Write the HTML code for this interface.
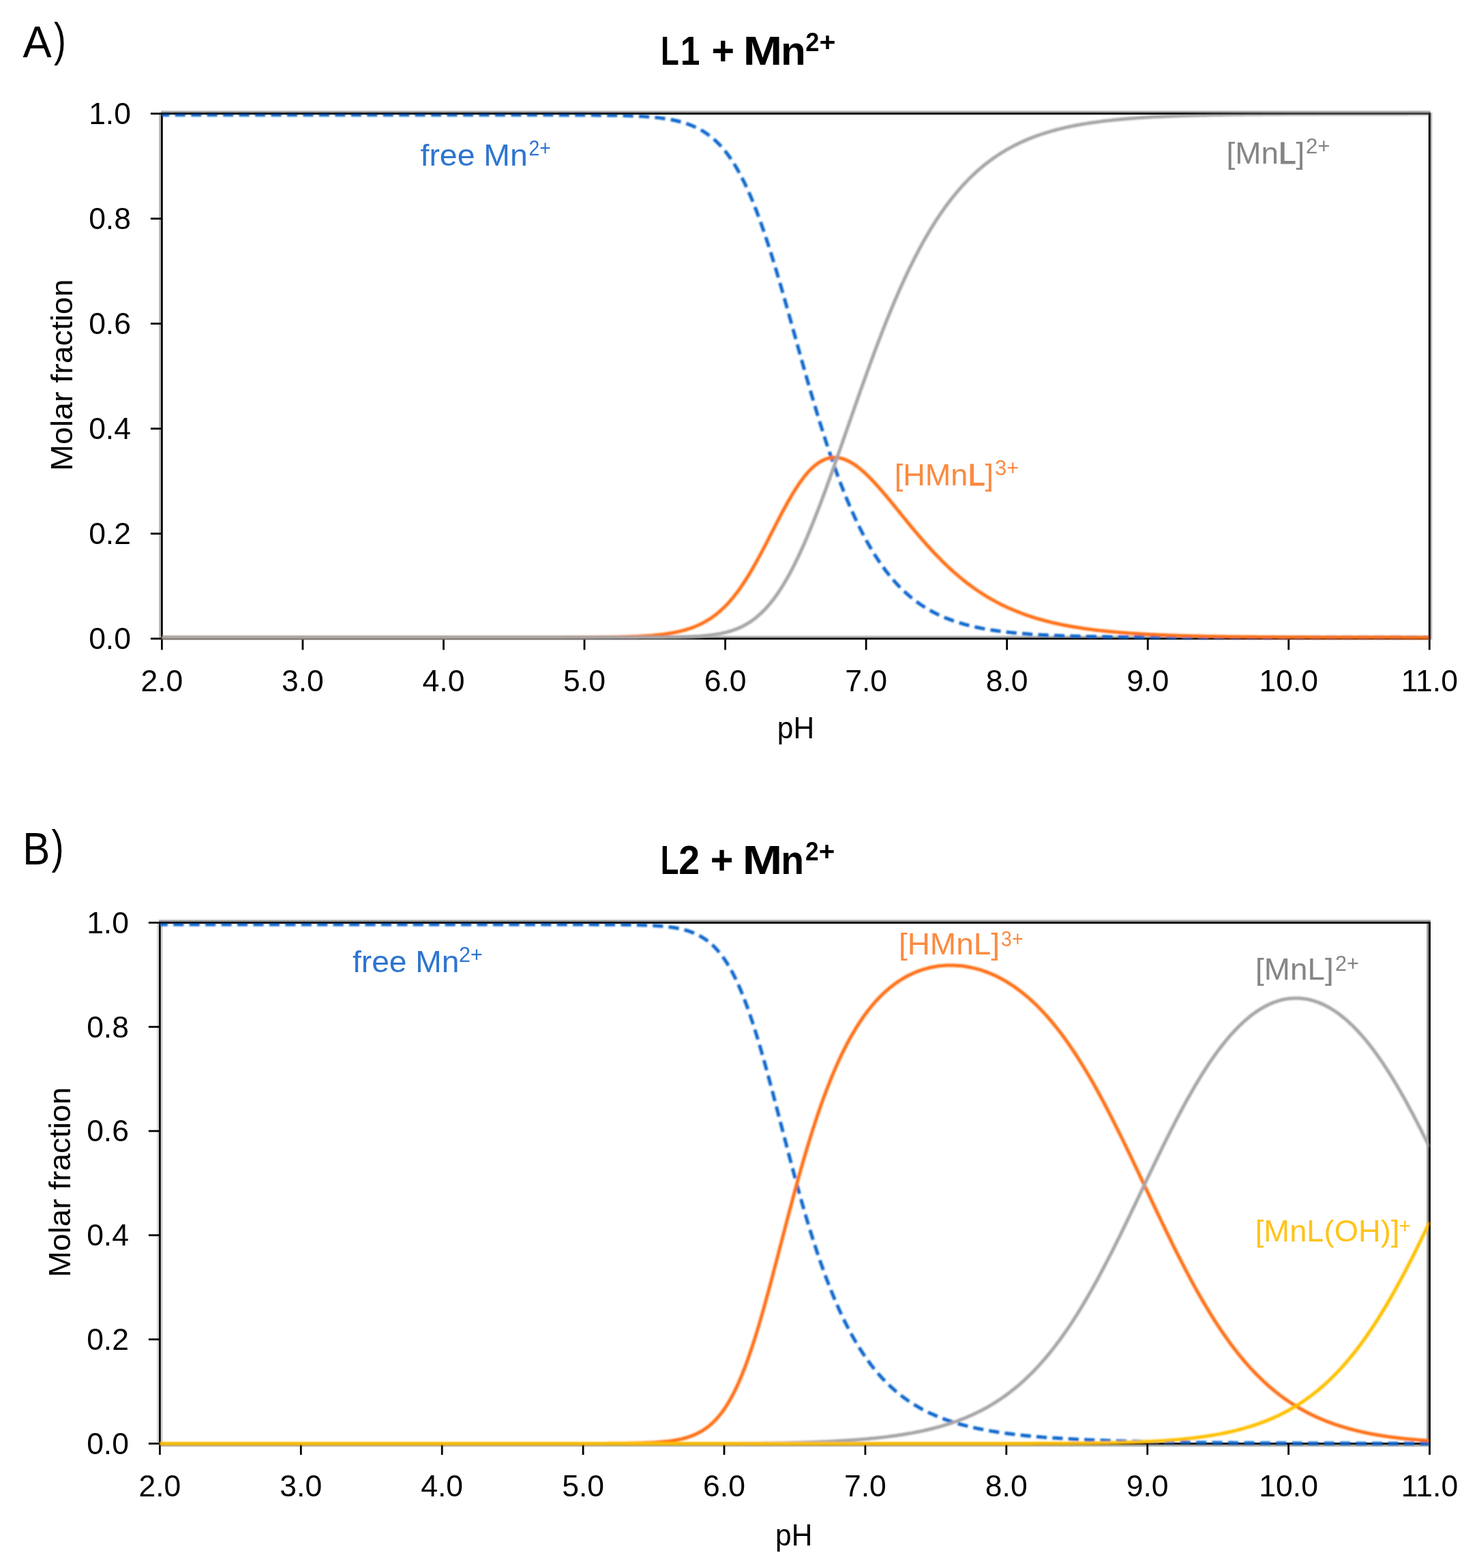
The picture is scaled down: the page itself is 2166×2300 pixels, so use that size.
<!DOCTYPE html>
<html lang="en"><head><meta charset="utf-8"><title>Speciation diagrams: L1 + Mn2+ and L2 + Mn2+</title>
<style>html,body{margin:0;padding:0;background:#fff;}svg{display:block;}</style>
</head><body>
<svg width="2166" height="2300" viewBox="0 0 2166 2300" font-family='"Liberation Sans", Arial, Helvetica, sans-serif'>
<defs><filter id="soft" filterUnits="userSpaceOnUse" x="0" y="0" width="2166" height="2300"><feGaussianBlur stdDeviation="0.8"/></filter><filter id="softt" filterUnits="userSpaceOnUse" x="0" y="0" width="2166" height="2300"><feGaussianBlur stdDeviation="0.45"/></filter></defs>
<rect width="2166" height="2300" fill="#fff"/>
<g fill="none"><line x1="234.5" y1="165.3" x2="234.5" y2="938.2" stroke="#B6B6B6" stroke-width="2.8"/><line x1="236" y1="163.9" x2="2097.7" y2="163.9" stroke="#ABABAB" stroke-width="2.7"/><line x1="2099" y1="165.3" x2="2099" y2="938.2" stroke="#B8B8B8" stroke-width="2.6"/><line x1="236" y1="934" x2="2097.7" y2="934" stroke="#B6B6B6" stroke-width="2.8"/></g>
<g stroke="#000" stroke-width="2.8" fill="none">
<line x1="220.9" y1="936.8" x2="237.4" y2="936.8"/>
<line x1="220.9" y1="782.78" x2="237.4" y2="782.78"/>
<line x1="220.9" y1="628.76" x2="237.4" y2="628.76"/>
<line x1="220.9" y1="474.74" x2="237.4" y2="474.74"/>
<line x1="220.9" y1="320.72" x2="237.4" y2="320.72"/>
<line x1="220.9" y1="166.7" x2="237.4" y2="166.7"/>
<line x1="237.4" y1="936.8" x2="237.4" y2="953.3"/>
<line x1="443.94" y1="936.8" x2="443.94" y2="953.3"/>
<line x1="650.49" y1="936.8" x2="650.49" y2="953.3"/>
<line x1="857.03" y1="936.8" x2="857.03" y2="953.3"/>
<line x1="1063.58" y1="936.8" x2="1063.58" y2="953.3"/>
<line x1="1270.12" y1="936.8" x2="1270.12" y2="953.3"/>
<line x1="1476.67" y1="936.8" x2="1476.67" y2="953.3"/>
<line x1="1683.21" y1="936.8" x2="1683.21" y2="953.3"/>
<line x1="1889.76" y1="936.8" x2="1889.76" y2="953.3"/>
<line x1="2096.3" y1="936.8" x2="2096.3" y2="953.3"/>
<rect x="237.4" y="166.7" width="1858.9" height="770.1"/>
</g>
<g font-size="44.5" fill="#000">
<text x="192" y="952.2" text-anchor="end">0.0</text>
<text x="192" y="798.18" text-anchor="end">0.2</text>
<text x="192" y="644.16" text-anchor="end">0.4</text>
<text x="192" y="490.14" text-anchor="end">0.6</text>
<text x="192" y="336.12" text-anchor="end">0.8</text>
<text x="192" y="182.1" text-anchor="end">1.0</text>
<text x="237.4" y="1013.5" text-anchor="middle">2.0</text>
<text x="443.94" y="1013.5" text-anchor="middle">3.0</text>
<text x="650.49" y="1013.5" text-anchor="middle">4.0</text>
<text x="857.03" y="1013.5" text-anchor="middle">5.0</text>
<text x="1063.58" y="1013.5" text-anchor="middle">6.0</text>
<text x="1270.12" y="1013.5" text-anchor="middle">7.0</text>
<text x="1476.67" y="1013.5" text-anchor="middle">8.0</text>
<text x="1683.21" y="1013.5" text-anchor="middle">9.0</text>
<text x="1889.76" y="1013.5" text-anchor="middle">10.0</text>
<text x="2096.3" y="1013.5" text-anchor="middle">11.0</text>
</g>
<g fill="none" stroke-linejoin="round" filter="url(#soft)">
<path d="M237.4,168.57 L241.53,168.57 L245.66,168.57 L249.79,168.57 L253.92,168.57 L258.05,168.57 L262.19,168.57 L266.32,168.57 L270.45,168.57 L274.58,168.57 L278.71,168.57 L282.84,168.57 L286.97,168.57 L291.1,168.57 L295.23,168.57 L299.36,168.57 L303.49,168.57 L307.63,168.57 L311.76,168.57 L315.89,168.57 L320.02,168.57 L324.15,168.57 L328.28,168.57 L332.41,168.57 L336.54,168.57 L340.67,168.57 L344.8,168.57 L348.93,168.57 L353.06,168.57 L357.2,168.57 L361.33,168.57 L365.46,168.57 L369.59,168.57 L373.72,168.57 L377.85,168.57 L381.98,168.57 L386.11,168.57 L390.24,168.57 L394.37,168.57 L398.5,168.57 L402.64,168.57 L406.77,168.57 L410.9,168.57 L415.03,168.57 L419.16,168.57 L423.29,168.57 L427.42,168.57 L431.55,168.57 L435.68,168.57 L439.81,168.57 L443.94,168.57 L448.08,168.57 L452.21,168.57 L456.34,168.57 L460.47,168.57 L464.6,168.57 L468.73,168.57 L472.86,168.57 L476.99,168.57 L481.12,168.57 L485.25,168.57 L489.38,168.57 L493.52,168.57 L497.65,168.57 L501.78,168.57 L505.91,168.57 L510.04,168.57 L514.17,168.57 L518.3,168.57 L522.43,168.57 L526.56,168.57 L530.69,168.57 L534.82,168.57 L538.95,168.57 L543.09,168.57 L547.22,168.57 L551.35,168.57 L555.48,168.57 L559.61,168.57 L563.74,168.57 L567.87,168.57 L572,168.57 L576.13,168.57 L580.26,168.57 L584.39,168.57 L588.53,168.57 L592.66,168.57 L596.79,168.57 L600.92,168.57 L605.05,168.57 L609.18,168.57 L613.31,168.57 L617.44,168.57 L621.57,168.57 L625.7,168.57 L629.83,168.57 L633.97,168.57 L638.1,168.57 L642.23,168.57 L646.36,168.57 L650.49,168.57 L654.62,168.57 L658.75,168.57 L662.88,168.57 L667.01,168.57 L671.14,168.57 L675.27,168.57 L679.41,168.57 L683.54,168.57 L687.67,168.57 L691.8,168.57 L695.93,168.57 L700.06,168.57 L704.19,168.57 L708.32,168.57 L712.45,168.57 L716.58,168.57 L720.71,168.57 L724.84,168.57 L728.98,168.57 L733.11,168.57 L737.24,168.57 L741.37,168.57 L745.5,168.57 L749.63,168.57 L753.76,168.58 L757.89,168.58 L762.02,168.58 L766.15,168.58 L770.28,168.58 L774.42,168.58 L778.55,168.59 L782.68,168.59 L786.81,168.59 L790.94,168.59 L795.07,168.6 L799.2,168.6 L803.33,168.61 L807.46,168.61 L811.59,168.62 L815.72,168.62 L819.86,168.63 L823.99,168.64 L828.12,168.65 L832.25,168.66 L836.38,168.67 L840.51,168.68 L844.64,168.7 L848.77,168.72 L852.9,168.74 L857.03,168.76 L861.16,168.78 L865.3,168.81 L869.43,168.84 L873.56,168.88 L877.69,168.91 L881.82,168.96 L885.95,169.01 L890.08,169.06 L894.21,169.13 L898.34,169.2 L902.47,169.28 L906.6,169.37 L910.73,169.47 L914.87,169.58 L919,169.7 L923.13,169.85 L927.26,170 L931.39,170.18 L935.52,170.38 L939.65,170.6 L943.78,170.85 L947.91,171.13 L952.04,171.44 L956.17,171.79 L960.31,172.18 L964.44,172.62 L968.57,173.11 L972.7,173.65 L976.83,174.26 L980.96,174.93 L985.09,175.69 L989.22,176.53 L993.35,177.47 L997.48,178.51 L1001.61,179.67 L1005.75,180.96 L1009.88,182.39 L1014.01,183.97 L1018.14,185.73 L1022.27,187.67 L1026.4,189.82 L1030.53,192.2 L1034.66,194.82 L1038.79,197.7 L1042.92,200.87 L1047.05,204.35 L1051.19,208.17 L1055.32,212.34 L1059.45,216.89 L1063.58,221.85 L1067.71,227.24 L1071.84,233.07 L1075.97,239.38 L1080.1,246.18 L1084.23,253.49 L1088.36,261.32 L1092.49,269.68 L1096.62,278.58 L1100.76,288.01 L1104.89,297.99 L1109.02,308.5 L1113.15,319.53 L1117.28,331.06 L1121.41,343.07 L1125.54,355.54 L1129.67,368.42 L1133.8,381.7 L1137.93,395.32 L1142.06,409.25 L1146.2,423.45 L1150.33,437.86 L1154.46,452.44 L1158.59,467.15 L1162.72,481.94 L1166.85,496.76 L1170.98,511.57 L1175.11,526.33 L1179.24,540.99 L1183.37,555.52 L1187.5,569.88 L1191.64,584.04 L1195.77,597.97 L1199.9,611.65 L1204.03,625.05 L1208.16,638.14 L1212.29,650.92 L1216.42,663.36 L1220.55,675.46 L1224.68,687.2 L1228.81,698.58 L1232.94,709.59 L1237.08,720.23 L1241.21,730.49 L1245.34,740.38 L1249.47,749.9 L1253.6,759.05 L1257.73,767.84 L1261.86,776.27 L1265.99,784.34 L1270.12,792.08 L1274.25,799.47 L1278.38,806.54 L1282.51,813.29 L1286.65,819.72 L1290.78,825.86 L1294.91,831.71 L1299.04,837.27 L1303.17,842.56 L1307.3,847.6 L1311.43,852.38 L1315.56,856.92 L1319.69,861.23 L1323.82,865.32 L1327.95,869.2 L1332.09,872.87 L1336.22,876.35 L1340.35,879.65 L1344.48,882.77 L1348.61,885.72 L1352.74,888.51 L1356.87,891.15 L1361,893.65 L1365.13,896 L1369.26,898.23 L1373.39,900.34 L1377.53,902.32 L1381.66,904.2 L1385.79,905.97 L1389.92,907.64 L1394.05,909.21 L1398.18,910.7 L1402.31,912.1 L1406.44,913.42 L1410.57,914.67 L1414.7,915.84 L1418.83,916.95 L1422.97,918 L1427.1,918.98 L1431.23,919.91 L1435.36,920.78 L1439.49,921.61 L1443.62,922.38 L1447.75,923.11 L1451.88,923.8 L1456.01,924.45 L1460.14,925.06 L1464.27,925.64 L1468.4,926.18 L1472.54,926.69 L1476.67,927.17 L1480.8,927.63 L1484.93,928.05 L1489.06,928.46 L1493.19,928.84 L1497.32,929.19 L1501.45,929.53 L1505.58,929.85 L1509.71,930.15 L1513.84,930.43 L1517.98,930.7 L1522.11,930.95 L1526.24,931.18 L1530.37,931.41 L1534.5,931.62 L1538.63,931.81 L1542.76,932 L1546.89,932.18 L1551.02,932.34 L1555.15,932.5 L1559.28,932.65 L1563.42,932.78 L1567.55,932.92 L1571.68,933.04 L1575.81,933.16 L1579.94,933.27 L1584.07,933.37 L1588.2,933.47 L1592.33,933.56 L1596.46,933.65 L1600.59,933.73 L1604.72,933.81 L1608.86,933.88 L1612.99,933.95 L1617.12,934.02 L1621.25,934.08 L1625.38,934.14 L1629.51,934.2 L1633.64,934.25 L1637.77,934.3 L1641.9,934.35 L1646.03,934.39 L1650.16,934.43 L1654.29,934.47 L1658.43,934.51 L1662.56,934.54 L1666.69,934.58 L1670.82,934.61 L1674.95,934.64 L1679.08,934.67 L1683.21,934.7 L1687.34,934.72 L1691.47,934.74 L1695.6,934.77 L1699.73,934.79 L1703.87,934.81 L1708,934.83 L1712.13,934.85 L1716.26,934.87 L1720.39,934.88 L1724.52,934.9 L1728.65,934.91 L1732.78,934.93 L1736.91,934.94 L1741.04,934.95 L1745.17,934.96 L1749.31,934.98 L1753.44,934.99 L1757.57,935 L1761.7,935.01 L1765.83,935.02 L1769.96,935.02 L1774.09,935.03 L1778.22,935.04 L1782.35,935.05 L1786.48,935.06 L1790.61,935.06 L1794.75,935.07 L1798.88,935.07 L1803.01,935.08 L1807.14,935.09 L1811.27,935.09 L1815.4,935.1 L1819.53,935.1 L1823.66,935.11 L1827.79,935.11 L1831.92,935.11 L1836.05,935.12 L1840.18,935.12 L1844.32,935.13 L1848.45,935.13 L1852.58,935.13 L1856.71,935.13 L1860.84,935.14 L1864.97,935.14 L1869.1,935.14 L1873.23,935.15 L1877.36,935.15 L1881.49,935.15 L1885.62,935.15 L1889.76,935.15 L1893.89,935.16 L1898.02,935.16 L1902.15,935.16 L1906.28,935.16 L1910.41,935.16 L1914.54,935.16 L1918.67,935.17 L1922.8,935.17 L1926.93,935.17 L1931.06,935.17 L1935.2,935.17 L1939.33,935.17 L1943.46,935.17 L1947.59,935.18 L1951.72,935.18 L1955.85,935.18 L1959.98,935.18 L1964.11,935.18 L1968.24,935.18 L1972.37,935.18 L1976.5,935.18 L1980.64,935.18 L1984.77,935.18 L1988.9,935.18 L1993.03,935.18 L1997.16,935.18 L2001.29,935.19 L2005.42,935.19 L2009.55,935.19 L2013.68,935.19 L2017.81,935.19 L2021.94,935.19 L2026.07,935.19 L2030.21,935.19 L2034.34,935.19 L2038.47,935.19 L2042.6,935.19 L2046.73,935.19 L2050.86,935.19 L2054.99,935.19 L2059.12,935.19 L2063.25,935.19 L2067.38,935.19 L2071.51,935.19 L2075.65,935.19 L2079.78,935.19 L2083.91,935.19 L2088.04,935.19 L2092.17,935.19 L2096.3,935.19" stroke="#0A66CC" stroke-width="5.0" stroke-dasharray="15.2 8.259" stroke-dashoffset="4.16"/>
<path d="M237.4,935.2 L241.53,935.2 L245.66,935.2 L249.79,935.2 L253.92,935.2 L258.05,935.2 L262.19,935.2 L266.32,935.2 L270.45,935.2 L274.58,935.2 L278.71,935.2 L282.84,935.2 L286.97,935.2 L291.1,935.2 L295.23,935.2 L299.36,935.2 L303.49,935.2 L307.63,935.2 L311.76,935.2 L315.89,935.2 L320.02,935.2 L324.15,935.2 L328.28,935.2 L332.41,935.2 L336.54,935.2 L340.67,935.2 L344.8,935.2 L348.93,935.2 L353.06,935.2 L357.2,935.2 L361.33,935.2 L365.46,935.2 L369.59,935.2 L373.72,935.2 L377.85,935.2 L381.98,935.2 L386.11,935.2 L390.24,935.2 L394.37,935.2 L398.5,935.2 L402.64,935.2 L406.77,935.2 L410.9,935.2 L415.03,935.2 L419.16,935.2 L423.29,935.2 L427.42,935.2 L431.55,935.2 L435.68,935.2 L439.81,935.2 L443.94,935.2 L448.08,935.2 L452.21,935.2 L456.34,935.2 L460.47,935.2 L464.6,935.2 L468.73,935.2 L472.86,935.2 L476.99,935.2 L481.12,935.2 L485.25,935.2 L489.38,935.2 L493.52,935.2 L497.65,935.2 L501.78,935.2 L505.91,935.2 L510.04,935.2 L514.17,935.2 L518.3,935.2 L522.43,935.2 L526.56,935.2 L530.69,935.2 L534.82,935.2 L538.95,935.2 L543.09,935.2 L547.22,935.2 L551.35,935.2 L555.48,935.2 L559.61,935.2 L563.74,935.2 L567.87,935.2 L572,935.2 L576.13,935.2 L580.26,935.2 L584.39,935.2 L588.53,935.2 L592.66,935.2 L596.79,935.2 L600.92,935.2 L605.05,935.2 L609.18,935.2 L613.31,935.2 L617.44,935.2 L621.57,935.2 L625.7,935.2 L629.83,935.2 L633.97,935.2 L638.1,935.2 L642.23,935.2 L646.36,935.2 L650.49,935.2 L654.62,935.2 L658.75,935.2 L662.88,935.2 L667.01,935.2 L671.14,935.2 L675.27,935.2 L679.41,935.2 L683.54,935.2 L687.67,935.2 L691.8,935.2 L695.93,935.2 L700.06,935.2 L704.19,935.2 L708.32,935.2 L712.45,935.2 L716.58,935.2 L720.71,935.2 L724.84,935.2 L728.98,935.2 L733.11,935.2 L737.24,935.2 L741.37,935.19 L745.5,935.19 L749.63,935.19 L753.76,935.19 L757.89,935.19 L762.02,935.19 L766.15,935.19 L770.28,935.19 L774.42,935.18 L778.55,935.18 L782.68,935.18 L786.81,935.18 L790.94,935.17 L795.07,935.17 L799.2,935.17 L803.33,935.16 L807.46,935.16 L811.59,935.15 L815.72,935.14 L819.86,935.14 L823.99,935.13 L828.12,935.12 L832.25,935.11 L836.38,935.1 L840.51,935.08 L844.64,935.07 L848.77,935.05 L852.9,935.03 L857.03,935.01 L861.16,934.99 L865.3,934.96 L869.43,934.93 L873.56,934.9 L877.69,934.86 L881.82,934.82 L885.95,934.77 L890.08,934.71 L894.21,934.65 L898.34,934.58 L902.47,934.51 L906.6,934.42 L910.73,934.32 L914.87,934.22 L919,934.1 L923.13,933.96 L927.26,933.81 L931.39,933.64 L935.52,933.45 L939.65,933.24 L943.78,933 L947.91,932.74 L952.04,932.45 L956.17,932.12 L960.31,931.75 L964.44,931.34 L968.57,930.89 L972.7,930.39 L976.83,929.83 L980.96,929.2 L985.09,928.51 L989.22,927.74 L993.35,926.89 L997.48,925.95 L1001.61,924.9 L1005.75,923.75 L1009.88,922.47 L1014.01,921.07 L1018.14,919.52 L1022.27,917.81 L1026.4,915.94 L1030.53,913.88 L1034.66,911.63 L1038.79,909.17 L1042.92,906.48 L1047.05,903.56 L1051.19,900.38 L1055.32,896.93 L1059.45,893.21 L1063.58,889.19 L1067.71,884.86 L1071.84,880.23 L1075.97,875.28 L1080.1,870 L1084.23,864.4 L1088.36,858.48 L1092.49,852.25 L1096.62,845.72 L1100.76,838.89 L1104.89,831.8 L1109.02,824.47 L1113.15,816.91 L1117.28,809.17 L1121.41,801.29 L1125.54,793.29 L1129.67,785.22 L1133.8,777.13 L1137.93,769.06 L1142.06,761.07 L1146.2,753.18 L1150.33,745.46 L1154.46,737.95 L1158.59,730.68 L1162.72,723.71 L1166.85,717.07 L1170.98,710.79 L1175.11,704.9 L1179.24,699.44 L1183.37,694.42 L1187.5,689.87 L1191.64,685.79 L1195.77,682.21 L1199.9,679.13 L1204.03,676.55 L1208.16,674.47 L1212.29,672.89 L1216.42,671.8 L1220.55,671.2 L1224.68,671.06 L1228.81,671.38 L1232.94,672.14 L1237.08,673.32 L1241.21,674.91 L1245.34,676.88 L1249.47,679.2 L1253.6,681.87 L1257.73,684.84 L1261.86,688.11 L1265.99,691.65 L1270.12,695.43 L1274.25,699.44 L1278.38,703.64 L1282.51,708.02 L1286.65,712.56 L1290.78,717.23 L1294.91,722.01 L1299.04,726.89 L1303.17,731.85 L1307.3,736.86 L1311.43,741.92 L1315.56,747.01 L1319.69,752.1 L1323.82,757.2 L1327.95,762.28 L1332.09,767.34 L1336.22,772.36 L1340.35,777.33 L1344.48,782.25 L1348.61,787.11 L1352.74,791.89 L1356.87,796.6 L1361,801.23 L1365.13,805.77 L1369.26,810.22 L1373.39,814.57 L1377.53,818.82 L1381.66,822.98 L1385.79,827.03 L1389.92,830.98 L1394.05,834.82 L1398.18,838.56 L1402.31,842.19 L1406.44,845.72 L1410.57,849.14 L1414.7,852.45 L1418.83,855.66 L1422.97,858.77 L1427.1,861.78 L1431.23,864.69 L1435.36,867.5 L1439.49,870.21 L1443.62,872.83 L1447.75,875.36 L1451.88,877.79 L1456.01,880.14 L1460.14,882.41 L1464.27,884.59 L1468.4,886.68 L1472.54,888.7 L1476.67,890.64 L1480.8,892.51 L1484.93,894.31 L1489.06,896.03 L1493.19,897.69 L1497.32,899.28 L1501.45,900.81 L1505.58,902.28 L1509.71,903.68 L1513.84,905.04 L1517.98,906.33 L1522.11,907.58 L1526.24,908.77 L1530.37,909.91 L1534.5,911.01 L1538.63,912.06 L1542.76,913.06 L1546.89,914.03 L1551.02,914.95 L1555.15,915.83 L1559.28,916.68 L1563.42,917.49 L1567.55,918.27 L1571.68,919.01 L1575.81,919.72 L1579.94,920.4 L1584.07,921.06 L1588.2,921.68 L1592.33,922.28 L1596.46,922.85 L1600.59,923.39 L1604.72,923.92 L1608.86,924.42 L1612.99,924.89 L1617.12,925.35 L1621.25,925.79 L1625.38,926.21 L1629.51,926.6 L1633.64,926.99 L1637.77,927.35 L1641.9,927.7 L1646.03,928.04 L1650.16,928.35 L1654.29,928.66 L1658.43,928.95 L1662.56,929.23 L1666.69,929.5 L1670.82,929.75 L1674.95,929.99 L1679.08,930.23 L1683.21,930.45 L1687.34,930.66 L1691.47,930.86 L1695.6,931.06 L1699.73,931.24 L1703.87,931.42 L1708,931.59 L1712.13,931.75 L1716.26,931.91 L1720.39,932.05 L1724.52,932.2 L1728.65,932.33 L1732.78,932.46 L1736.91,932.58 L1741.04,932.7 L1745.17,932.81 L1749.31,932.92 L1753.44,933.02 L1757.57,933.12 L1761.7,933.21 L1765.83,933.3 L1769.96,933.39 L1774.09,933.47 L1778.22,933.55 L1782.35,933.62 L1786.48,933.69 L1790.61,933.76 L1794.75,933.82 L1798.88,933.89 L1803.01,933.94 L1807.14,934 L1811.27,934.05 L1815.4,934.11 L1819.53,934.16 L1823.66,934.2 L1827.79,934.25 L1831.92,934.29 L1836.05,934.33 L1840.18,934.37 L1844.32,934.41 L1848.45,934.44 L1852.58,934.48 L1856.71,934.51 L1860.84,934.54 L1864.97,934.57 L1869.1,934.6 L1873.23,934.63 L1877.36,934.65 L1881.49,934.68 L1885.62,934.7 L1889.76,934.72 L1893.89,934.74 L1898.02,934.76 L1902.15,934.78 L1906.28,934.8 L1910.41,934.82 L1914.54,934.84 L1918.67,934.85 L1922.8,934.87 L1926.93,934.88 L1931.06,934.9 L1935.2,934.91 L1939.33,934.92 L1943.46,934.94 L1947.59,934.95 L1951.72,934.96 L1955.85,934.97 L1959.98,934.98 L1964.11,934.99 L1968.24,935 L1972.37,935.01 L1976.5,935.02 L1980.64,935.03 L1984.77,935.03 L1988.9,935.04 L1993.03,935.05 L1997.16,935.06 L2001.29,935.06 L2005.42,935.07 L2009.55,935.07 L2013.68,935.08 L2017.81,935.09 L2021.94,935.09 L2026.07,935.1 L2030.21,935.1 L2034.34,935.1 L2038.47,935.11 L2042.6,935.11 L2046.73,935.12 L2050.86,935.12 L2054.99,935.12 L2059.12,935.13 L2063.25,935.13 L2067.38,935.13 L2071.51,935.14 L2075.65,935.14 L2079.78,935.14 L2083.91,935.15 L2088.04,935.15 L2092.17,935.15 L2096.3,935.15" stroke="#FF7014" stroke-width="5.0"/>
<path d="M237.4,935.2 L241.53,935.2 L245.66,935.2 L249.79,935.2 L253.92,935.2 L258.05,935.2 L262.19,935.2 L266.32,935.2 L270.45,935.2 L274.58,935.2 L278.71,935.2 L282.84,935.2 L286.97,935.2 L291.1,935.2 L295.23,935.2 L299.36,935.2 L303.49,935.2 L307.63,935.2 L311.76,935.2 L315.89,935.2 L320.02,935.2 L324.15,935.2 L328.28,935.2 L332.41,935.2 L336.54,935.2 L340.67,935.2 L344.8,935.2 L348.93,935.2 L353.06,935.2 L357.2,935.2 L361.33,935.2 L365.46,935.2 L369.59,935.2 L373.72,935.2 L377.85,935.2 L381.98,935.2 L386.11,935.2 L390.24,935.2 L394.37,935.2 L398.5,935.2 L402.64,935.2 L406.77,935.2 L410.9,935.2 L415.03,935.2 L419.16,935.2 L423.29,935.2 L427.42,935.2 L431.55,935.2 L435.68,935.2 L439.81,935.2 L443.94,935.2 L448.08,935.2 L452.21,935.2 L456.34,935.2 L460.47,935.2 L464.6,935.2 L468.73,935.2 L472.86,935.2 L476.99,935.2 L481.12,935.2 L485.25,935.2 L489.38,935.2 L493.52,935.2 L497.65,935.2 L501.78,935.2 L505.91,935.2 L510.04,935.2 L514.17,935.2 L518.3,935.2 L522.43,935.2 L526.56,935.2 L530.69,935.2 L534.82,935.2 L538.95,935.2 L543.09,935.2 L547.22,935.2 L551.35,935.2 L555.48,935.2 L559.61,935.2 L563.74,935.2 L567.87,935.2 L572,935.2 L576.13,935.2 L580.26,935.2 L584.39,935.2 L588.53,935.2 L592.66,935.2 L596.79,935.2 L600.92,935.2 L605.05,935.2 L609.18,935.2 L613.31,935.2 L617.44,935.2 L621.57,935.2 L625.7,935.2 L629.83,935.2 L633.97,935.2 L638.1,935.2 L642.23,935.2 L646.36,935.2 L650.49,935.2 L654.62,935.2 L658.75,935.2 L662.88,935.2 L667.01,935.2 L671.14,935.2 L675.27,935.2 L679.41,935.2 L683.54,935.2 L687.67,935.2 L691.8,935.2 L695.93,935.2 L700.06,935.2 L704.19,935.2 L708.32,935.2 L712.45,935.2 L716.58,935.2 L720.71,935.2 L724.84,935.2 L728.98,935.2 L733.11,935.2 L737.24,935.2 L741.37,935.2 L745.5,935.2 L749.63,935.2 L753.76,935.2 L757.89,935.2 L762.02,935.2 L766.15,935.2 L770.28,935.2 L774.42,935.2 L778.55,935.2 L782.68,935.2 L786.81,935.2 L790.94,935.2 L795.07,935.2 L799.2,935.2 L803.33,935.2 L807.46,935.2 L811.59,935.2 L815.72,935.2 L819.86,935.2 L823.99,935.2 L828.12,935.2 L832.25,935.2 L836.38,935.2 L840.51,935.2 L844.64,935.2 L848.77,935.2 L852.9,935.2 L857.03,935.2 L861.16,935.2 L865.3,935.2 L869.43,935.2 L873.56,935.19 L877.69,935.19 L881.82,935.19 L885.95,935.19 L890.08,935.19 L894.21,935.19 L898.34,935.18 L902.47,935.18 L906.6,935.18 L910.73,935.17 L914.87,935.17 L919,935.16 L923.13,935.16 L927.26,935.15 L931.39,935.14 L935.52,935.13 L939.65,935.12 L943.78,935.11 L947.91,935.09 L952.04,935.07 L956.17,935.05 L960.31,935.02 L964.44,934.99 L968.57,934.96 L972.7,934.92 L976.83,934.87 L980.96,934.82 L985.09,934.75 L989.22,934.68 L993.35,934.59 L997.48,934.49 L1001.61,934.37 L1005.75,934.23 L1009.88,934.08 L1014.01,933.89 L1018.14,933.68 L1022.27,933.44 L1026.4,933.16 L1030.53,932.83 L1034.66,932.46 L1038.79,932.03 L1042.92,931.54 L1047.05,930.97 L1051.19,930.33 L1055.32,929.59 L1059.45,928.76 L1063.58,927.81 L1067.71,926.73 L1071.84,925.52 L1075.97,924.15 L1080.1,922.61 L1084.23,920.88 L1088.36,918.95 L1092.49,916.81 L1096.62,914.42 L1100.76,911.78 L1104.89,908.87 L1109.02,905.68 L1113.15,902.18 L1117.28,898.36 L1121.41,894.21 L1125.54,889.71 L1129.67,884.86 L1133.8,879.64 L1137.93,874.06 L1142.06,868.09 L1146.2,861.75 L1150.33,855.03 L1154.46,847.92 L1158.59,840.44 L1162.72,832.6 L1166.85,824.38 L1170.98,815.82 L1175.11,806.92 L1179.24,797.68 L1183.37,788.14 L1187.5,778.3 L1191.64,768.17 L1195.77,757.79 L1199.9,747.17 L1204.03,736.32 L1208.16,725.27 L1212.29,714.05 L1216.42,702.66 L1220.55,691.14 L1224.68,679.51 L1228.81,667.79 L1232.94,655.99 L1237.08,644.15 L1241.21,632.27 L1245.34,620.39 L1249.47,608.52 L1253.6,596.69 L1257.73,584.9 L1261.86,573.18 L1265.99,561.55 L1270.12,550.02 L1274.25,538.6 L1278.38,527.31 L1282.51,516.17 L1286.65,505.18 L1290.78,494.36 L1294.91,483.72 L1299.04,473.26 L1303.17,463 L1307.3,452.94 L1311.43,443.09 L1315.56,433.45 L1319.69,424.04 L1323.82,414.84 L1327.95,405.87 L1332.09,397.14 L1336.22,388.63 L1340.35,380.35 L1344.48,372.3 L1348.61,364.49 L1352.74,356.9 L1356.87,349.55 L1361,342.42 L1365.13,335.52 L1369.26,328.84 L1373.39,322.38 L1377.53,316.13 L1381.66,310.09 L1385.79,304.27 L1389.92,298.65 L1394.05,293.22 L1398.18,288 L1402.31,282.96 L1406.44,278.11 L1410.57,273.44 L1414.7,268.95 L1418.83,264.63 L1422.97,260.47 L1427.1,256.48 L1431.23,252.64 L1435.36,248.95 L1439.49,245.41 L1443.62,242.02 L1447.75,238.76 L1451.88,235.63 L1456.01,232.63 L1460.14,229.76 L1464.27,227 L1468.4,224.36 L1472.54,221.83 L1476.67,219.4 L1480.8,217.08 L1484.93,214.86 L1489.06,212.73 L1493.19,210.69 L1497.32,208.74 L1501.45,206.87 L1505.58,205.09 L1509.71,203.38 L1513.84,201.74 L1517.98,200.18 L1522.11,198.69 L1526.24,197.26 L1530.37,195.89 L1534.5,194.59 L1538.63,193.34 L1542.76,192.15 L1546.89,191.01 L1551.02,189.92 L1555.15,188.87 L1559.28,187.88 L1563.42,186.93 L1567.55,186.02 L1571.68,185.15 L1575.81,184.32 L1579.94,183.53 L1584.07,182.78 L1588.2,182.05 L1592.33,181.37 L1596.46,180.71 L1600.59,180.08 L1604.72,179.48 L1608.86,178.9 L1612.99,178.36 L1617.12,177.83 L1621.25,177.33 L1625.38,176.86 L1629.51,176.4 L1633.64,175.97 L1637.77,175.55 L1641.9,175.15 L1646.03,174.78 L1650.16,174.41 L1654.29,174.07 L1658.43,173.74 L1662.56,173.43 L1666.69,173.13 L1670.82,172.84 L1674.95,172.57 L1679.08,172.31 L1683.21,172.06 L1687.34,171.82 L1691.47,171.59 L1695.6,171.37 L1699.73,171.17 L1703.87,170.97 L1708,170.78 L1712.13,170.6 L1716.26,170.43 L1720.39,170.26 L1724.52,170.11 L1728.65,169.96 L1732.78,169.82 L1736.91,169.68 L1741.04,169.55 L1745.17,169.43 L1749.31,169.31 L1753.44,169.19 L1757.57,169.09 L1761.7,168.98 L1765.83,168.88 L1769.96,168.79 L1774.09,168.7 L1778.22,168.61 L1782.35,168.53 L1786.48,168.45 L1790.61,168.38 L1794.75,168.31 L1798.88,168.24 L1803.01,168.18 L1807.14,168.11 L1811.27,168.05 L1815.4,168 L1819.53,167.94 L1823.66,167.89 L1827.79,167.84 L1831.92,167.8 L1836.05,167.75 L1840.18,167.71 L1844.32,167.67 L1848.45,167.63 L1852.58,167.59 L1856.71,167.56 L1860.84,167.52 L1864.97,167.49 L1869.1,167.46 L1873.23,167.43 L1877.36,167.4 L1881.49,167.37 L1885.62,167.35 L1889.76,167.32 L1893.89,167.3 L1898.02,167.28 L1902.15,167.26 L1906.28,167.24 L1910.41,167.22 L1914.54,167.2 L1918.67,167.18 L1922.8,167.16 L1926.93,167.15 L1931.06,167.13 L1935.2,167.12 L1939.33,167.1 L1943.46,167.09 L1947.59,167.08 L1951.72,167.06 L1955.85,167.05 L1959.98,167.04 L1964.11,167.03 L1968.24,167.02 L1972.37,167.01 L1976.5,167 L1980.64,166.99 L1984.77,166.98 L1988.9,166.97 L1993.03,166.97 L1997.16,166.96 L2001.29,166.95 L2005.42,166.95 L2009.55,166.94 L2013.68,166.93 L2017.81,166.93 L2021.94,166.92 L2026.07,166.92 L2030.21,166.91 L2034.34,166.91 L2038.47,166.9 L2042.6,166.9 L2046.73,166.89 L2050.86,166.89 L2054.99,166.88 L2059.12,166.88 L2063.25,166.88 L2067.38,166.87 L2071.51,166.87 L2075.65,166.87 L2079.78,166.86 L2083.91,166.86 L2088.04,166.86 L2092.17,166.86 L2096.3,166.85" stroke="#A6A6A6" stroke-width="5.0"/>
</g>
<path d="M237.4,166.7 H2096.3 V936.8" fill="none" stroke="#000" stroke-opacity="0.6" stroke-width="2.8"/>
<g fill="none"><line x1="231.5" y1="1352" x2="231.5" y2="2118.9" stroke="#D6D6D6" stroke-width="2.8"/><line x1="237.3" y1="1352" x2="237.3" y2="2118.9" stroke="#D2D2D2" stroke-width="2.8"/><line x1="233" y1="1350.6" x2="2097.9" y2="1350.6" stroke="#A3A3A3" stroke-width="2.7"/><line x1="2093.6" y1="1352" x2="2093.6" y2="2118.9" stroke="#9A9A9A" stroke-width="2.8"/><line x1="233" y1="2120.4" x2="2097.9" y2="2120.4" stroke="#A4A4A4" stroke-width="2.8"/></g>
<g stroke="#000" stroke-width="2.8" fill="none">
<line x1="217.9" y1="2117.5" x2="234.4" y2="2117.5"/>
<line x1="217.9" y1="1964.68" x2="234.4" y2="1964.68"/>
<line x1="217.9" y1="1811.86" x2="234.4" y2="1811.86"/>
<line x1="217.9" y1="1659.04" x2="234.4" y2="1659.04"/>
<line x1="217.9" y1="1506.22" x2="234.4" y2="1506.22"/>
<line x1="217.9" y1="1353.4" x2="234.4" y2="1353.4"/>
<line x1="234.4" y1="2117.5" x2="234.4" y2="2134"/>
<line x1="441.3" y1="2117.5" x2="441.3" y2="2134"/>
<line x1="648.2" y1="2117.5" x2="648.2" y2="2134"/>
<line x1="855.1" y1="2117.5" x2="855.1" y2="2134"/>
<line x1="1062" y1="2117.5" x2="1062" y2="2134"/>
<line x1="1268.9" y1="2117.5" x2="1268.9" y2="2134"/>
<line x1="1475.8" y1="2117.5" x2="1475.8" y2="2134"/>
<line x1="1682.7" y1="2117.5" x2="1682.7" y2="2134"/>
<line x1="1889.6" y1="2117.5" x2="1889.6" y2="2134"/>
<line x1="2096.5" y1="2117.5" x2="2096.5" y2="2134"/>
<rect x="234.4" y="1353.4" width="1862.1" height="764.1"/>
</g>
<g font-size="44.5" fill="#000">
<text x="189" y="2132.9" text-anchor="end">0.0</text>
<text x="189" y="1980.08" text-anchor="end">0.2</text>
<text x="189" y="1827.26" text-anchor="end">0.4</text>
<text x="189" y="1674.44" text-anchor="end">0.6</text>
<text x="189" y="1521.62" text-anchor="end">0.8</text>
<text x="189" y="1368.8" text-anchor="end">1.0</text>
<text x="234.4" y="2195" text-anchor="middle">2.0</text>
<text x="441.3" y="2195" text-anchor="middle">3.0</text>
<text x="648.2" y="2195" text-anchor="middle">4.0</text>
<text x="855.1" y="2195" text-anchor="middle">5.0</text>
<text x="1062" y="2195" text-anchor="middle">6.0</text>
<text x="1268.9" y="2195" text-anchor="middle">7.0</text>
<text x="1475.8" y="2195" text-anchor="middle">8.0</text>
<text x="1682.7" y="2195" text-anchor="middle">9.0</text>
<text x="1889.6" y="2195" text-anchor="middle">10.0</text>
<text x="2096.5" y="2195" text-anchor="middle">11.0</text>
</g>
<g fill="none" stroke-linejoin="round" filter="url(#soft)">
<path d="M234.4,1356.07 L238.54,1356.07 L242.68,1356.07 L246.81,1356.07 L250.95,1356.07 L255.09,1356.07 L259.23,1356.07 L263.37,1356.07 L267.5,1356.07 L271.64,1356.07 L275.78,1356.07 L279.92,1356.07 L284.06,1356.07 L288.19,1356.07 L292.33,1356.07 L296.47,1356.07 L300.61,1356.07 L304.75,1356.07 L308.88,1356.07 L313.02,1356.07 L317.16,1356.07 L321.3,1356.07 L325.44,1356.07 L329.57,1356.07 L333.71,1356.07 L337.85,1356.07 L341.99,1356.07 L346.13,1356.07 L350.26,1356.07 L354.4,1356.07 L358.54,1356.07 L362.68,1356.07 L366.82,1356.07 L370.95,1356.07 L375.09,1356.07 L379.23,1356.07 L383.37,1356.07 L387.51,1356.07 L391.64,1356.07 L395.78,1356.07 L399.92,1356.07 L404.06,1356.07 L408.2,1356.07 L412.33,1356.07 L416.47,1356.07 L420.61,1356.07 L424.75,1356.07 L428.89,1356.07 L433.02,1356.07 L437.16,1356.07 L441.3,1356.07 L445.44,1356.07 L449.58,1356.07 L453.71,1356.07 L457.85,1356.07 L461.99,1356.07 L466.13,1356.07 L470.27,1356.07 L474.4,1356.07 L478.54,1356.07 L482.68,1356.07 L486.82,1356.07 L490.96,1356.07 L495.09,1356.07 L499.23,1356.07 L503.37,1356.07 L507.51,1356.07 L511.65,1356.07 L515.78,1356.07 L519.92,1356.07 L524.06,1356.07 L528.2,1356.07 L532.34,1356.07 L536.47,1356.07 L540.61,1356.07 L544.75,1356.07 L548.89,1356.07 L553.03,1356.07 L557.16,1356.07 L561.3,1356.07 L565.44,1356.07 L569.58,1356.07 L573.72,1356.07 L577.85,1356.07 L581.99,1356.07 L586.13,1356.07 L590.27,1356.07 L594.41,1356.07 L598.54,1356.07 L602.68,1356.07 L606.82,1356.07 L610.96,1356.07 L615.1,1356.07 L619.23,1356.07 L623.37,1356.07 L627.51,1356.07 L631.65,1356.07 L635.79,1356.07 L639.92,1356.07 L644.06,1356.07 L648.2,1356.07 L652.34,1356.07 L656.48,1356.07 L660.61,1356.07 L664.75,1356.07 L668.89,1356.07 L673.03,1356.07 L677.17,1356.07 L681.3,1356.07 L685.44,1356.07 L689.58,1356.07 L693.72,1356.07 L697.86,1356.07 L701.99,1356.07 L706.13,1356.07 L710.27,1356.07 L714.41,1356.07 L718.55,1356.07 L722.68,1356.07 L726.82,1356.07 L730.96,1356.07 L735.1,1356.07 L739.24,1356.07 L743.37,1356.07 L747.51,1356.07 L751.65,1356.07 L755.79,1356.07 L759.93,1356.07 L764.06,1356.07 L768.2,1356.08 L772.34,1356.08 L776.48,1356.08 L780.62,1356.08 L784.75,1356.08 L788.89,1356.08 L793.03,1356.08 L797.17,1356.08 L801.31,1356.08 L805.44,1356.08 L809.58,1356.08 L813.72,1356.08 L817.86,1356.08 L822,1356.08 L826.13,1356.08 L830.27,1356.08 L834.41,1356.09 L838.55,1356.09 L842.69,1356.09 L846.82,1356.1 L850.96,1356.1 L855.1,1356.1 L859.24,1356.11 L863.38,1356.12 L867.51,1356.12 L871.65,1356.13 L875.79,1356.14 L879.93,1356.15 L884.07,1356.17 L888.2,1356.18 L892.34,1356.2 L896.48,1356.23 L900.62,1356.25 L904.76,1356.28 L908.89,1356.32 L913.03,1356.36 L917.17,1356.41 L921.31,1356.47 L925.45,1356.54 L929.58,1356.62 L933.72,1356.71 L937.86,1356.81 L942,1356.94 L946.14,1357.08 L950.27,1357.25 L954.41,1357.44 L958.55,1357.66 L962.69,1357.92 L966.83,1358.22 L970.96,1358.56 L975.1,1358.96 L979.24,1359.42 L983.38,1359.95 L987.52,1360.56 L991.65,1361.26 L995.79,1362.06 L999.93,1362.98 L1004.07,1364.03 L1008.21,1365.24 L1012.34,1366.61 L1016.48,1368.18 L1020.62,1369.96 L1024.76,1371.99 L1028.9,1374.29 L1033.03,1376.89 L1037.17,1379.82 L1041.31,1383.11 L1045.45,1386.82 L1049.59,1390.96 L1053.72,1395.58 L1057.86,1400.71 L1062,1406.4 L1066.14,1412.67 L1070.28,1419.56 L1074.41,1427.09 L1078.55,1435.3 L1082.69,1444.19 L1086.83,1453.78 L1090.97,1464.07 L1095.1,1475.04 L1099.24,1486.69 L1103.38,1498.99 L1107.52,1511.91 L1111.66,1525.41 L1115.79,1539.43 L1119.93,1553.92 L1124.07,1568.82 L1128.21,1584.06 L1132.35,1599.58 L1136.48,1615.31 L1140.62,1631.18 L1144.76,1647.12 L1148.9,1663.07 L1153.04,1678.97 L1157.17,1694.75 L1161.31,1710.38 L1165.45,1725.79 L1169.59,1740.96 L1173.73,1755.83 L1177.86,1770.38 L1182,1784.58 L1186.14,1798.41 L1190.28,1811.85 L1194.42,1824.88 L1198.55,1837.49 L1202.69,1849.69 L1206.83,1861.45 L1210.97,1872.8 L1215.11,1883.71 L1219.24,1894.2 L1223.38,1904.28 L1227.52,1913.94 L1231.66,1923.21 L1235.8,1932.08 L1239.93,1940.57 L1244.07,1948.69 L1248.21,1956.45 L1252.35,1963.86 L1256.49,1970.93 L1260.62,1977.68 L1264.76,1984.12 L1268.9,1990.26 L1273.04,1996.11 L1277.18,2001.69 L1281.31,2007 L1285.45,2012.06 L1289.59,2016.88 L1293.73,2021.47 L1297.87,2025.84 L1302,2029.99 L1306.14,2033.95 L1310.28,2037.72 L1314.42,2041.3 L1318.56,2044.71 L1322.69,2047.96 L1326.83,2051.05 L1330.97,2053.99 L1335.11,2056.79 L1339.25,2059.46 L1343.38,2061.99 L1347.52,2064.41 L1351.66,2066.71 L1355.8,2068.89 L1359.94,2070.98 L1364.07,2072.96 L1368.21,2074.85 L1372.35,2076.66 L1376.49,2078.37 L1380.63,2080.01 L1384.76,2081.57 L1388.9,2083.05 L1393.04,2084.47 L1397.18,2085.82 L1401.32,2087.11 L1405.45,2088.34 L1409.59,2089.51 L1413.73,2090.63 L1417.87,2091.7 L1422.01,2092.72 L1426.14,2093.7 L1430.28,2094.63 L1434.42,2095.52 L1438.56,2096.37 L1442.7,2097.18 L1446.83,2097.96 L1450.97,2098.7 L1455.11,2099.41 L1459.25,2100.09 L1463.39,2100.74 L1467.52,2101.36 L1471.66,2101.96 L1475.8,2102.53 L1479.94,2103.07 L1484.08,2103.6 L1488.21,2104.1 L1492.35,2104.58 L1496.49,2105.04 L1500.63,2105.48 L1504.77,2105.91 L1508.9,2106.31 L1513.04,2106.7 L1517.18,2107.08 L1521.32,2107.44 L1525.46,2107.79 L1529.59,2108.12 L1533.73,2108.44 L1537.87,2108.75 L1542.01,2109.04 L1546.15,2109.33 L1550.28,2109.6 L1554.42,2109.86 L1558.56,2110.12 L1562.7,2110.36 L1566.84,2110.6 L1570.97,2110.82 L1575.11,2111.04 L1579.25,2111.25 L1583.39,2111.45 L1587.53,2111.65 L1591.66,2111.84 L1595.8,2112.02 L1599.94,2112.19 L1604.08,2112.36 L1608.22,2112.53 L1612.35,2112.69 L1616.49,2112.84 L1620.63,2112.99 L1624.77,2113.13 L1628.91,2113.27 L1633.04,2113.4 L1637.18,2113.53 L1641.32,2113.65 L1645.46,2113.77 L1649.6,2113.89 L1653.73,2114 L1657.87,2114.11 L1662.01,2114.21 L1666.15,2114.32 L1670.29,2114.41 L1674.42,2114.51 L1678.56,2114.6 L1682.7,2114.69 L1686.84,2114.78 L1690.98,2114.86 L1695.11,2114.94 L1699.25,2115.02 L1703.39,2115.09 L1707.53,2115.17 L1711.67,2115.24 L1715.8,2115.31 L1719.94,2115.37 L1724.08,2115.44 L1728.22,2115.5 L1732.36,2115.56 L1736.49,2115.62 L1740.63,2115.68 L1744.77,2115.73 L1748.91,2115.78 L1753.05,2115.83 L1757.18,2115.88 L1761.32,2115.93 L1765.46,2115.98 L1769.6,2116.02 L1773.74,2116.07 L1777.87,2116.11 L1782.01,2116.15 L1786.15,2116.19 L1790.29,2116.23 L1794.43,2116.26 L1798.56,2116.3 L1802.7,2116.33 L1806.84,2116.37 L1810.98,2116.4 L1815.12,2116.43 L1819.25,2116.46 L1823.39,2116.49 L1827.53,2116.52 L1831.67,2116.54 L1835.81,2116.57 L1839.94,2116.6 L1844.08,2116.62 L1848.22,2116.64 L1852.36,2116.67 L1856.5,2116.69 L1860.63,2116.71 L1864.77,2116.73 L1868.91,2116.75 L1873.05,2116.77 L1877.19,2116.79 L1881.32,2116.81 L1885.46,2116.83 L1889.6,2116.84 L1893.74,2116.86 L1897.88,2116.88 L1902.01,2116.89 L1906.15,2116.91 L1910.29,2116.92 L1914.43,2116.94 L1918.57,2116.95 L1922.7,2116.96 L1926.84,2116.98 L1930.98,2116.99 L1935.12,2117 L1939.26,2117.01 L1943.39,2117.02 L1947.53,2117.04 L1951.67,2117.05 L1955.81,2117.06 L1959.95,2117.07 L1964.08,2117.08 L1968.22,2117.09 L1972.36,2117.1 L1976.5,2117.1 L1980.64,2117.11 L1984.77,2117.12 L1988.91,2117.13 L1993.05,2117.14 L1997.19,2117.15 L2001.33,2117.15 L2005.46,2117.16 L2009.6,2117.17 L2013.74,2117.18 L2017.88,2117.18 L2022.02,2117.19 L2026.15,2117.2 L2030.29,2117.2 L2034.43,2117.21 L2038.57,2117.21 L2042.71,2117.22 L2046.84,2117.23 L2050.98,2117.23 L2055.12,2117.24 L2059.26,2117.24 L2063.4,2117.25 L2067.53,2117.25 L2071.67,2117.26 L2075.81,2117.26 L2079.95,2117.27 L2084.09,2117.27 L2088.22,2117.28 L2092.36,2117.28 L2096.5,2117.28" stroke="#0A66CC" stroke-width="5.0" stroke-dasharray="15.2 8.234" stroke-dashoffset="3.63"/>
<path d="M234.4,2117.5 L238.54,2117.5 L242.68,2117.5 L246.81,2117.5 L250.95,2117.5 L255.09,2117.5 L259.23,2117.5 L263.37,2117.5 L267.5,2117.5 L271.64,2117.5 L275.78,2117.5 L279.92,2117.5 L284.06,2117.5 L288.19,2117.5 L292.33,2117.5 L296.47,2117.5 L300.61,2117.5 L304.75,2117.5 L308.88,2117.5 L313.02,2117.5 L317.16,2117.5 L321.3,2117.5 L325.44,2117.5 L329.57,2117.5 L333.71,2117.5 L337.85,2117.5 L341.99,2117.5 L346.13,2117.5 L350.26,2117.5 L354.4,2117.5 L358.54,2117.5 L362.68,2117.5 L366.82,2117.5 L370.95,2117.5 L375.09,2117.5 L379.23,2117.5 L383.37,2117.5 L387.51,2117.5 L391.64,2117.5 L395.78,2117.5 L399.92,2117.5 L404.06,2117.5 L408.2,2117.5 L412.33,2117.5 L416.47,2117.5 L420.61,2117.5 L424.75,2117.5 L428.89,2117.5 L433.02,2117.5 L437.16,2117.5 L441.3,2117.5 L445.44,2117.5 L449.58,2117.5 L453.71,2117.5 L457.85,2117.5 L461.99,2117.5 L466.13,2117.5 L470.27,2117.5 L474.4,2117.5 L478.54,2117.5 L482.68,2117.5 L486.82,2117.5 L490.96,2117.5 L495.09,2117.5 L499.23,2117.5 L503.37,2117.5 L507.51,2117.5 L511.65,2117.5 L515.78,2117.5 L519.92,2117.5 L524.06,2117.5 L528.2,2117.5 L532.34,2117.5 L536.47,2117.5 L540.61,2117.5 L544.75,2117.5 L548.89,2117.5 L553.03,2117.5 L557.16,2117.5 L561.3,2117.5 L565.44,2117.5 L569.58,2117.5 L573.72,2117.5 L577.85,2117.5 L581.99,2117.5 L586.13,2117.5 L590.27,2117.5 L594.41,2117.5 L598.54,2117.5 L602.68,2117.5 L606.82,2117.5 L610.96,2117.5 L615.1,2117.5 L619.23,2117.5 L623.37,2117.5 L627.51,2117.5 L631.65,2117.5 L635.79,2117.5 L639.92,2117.5 L644.06,2117.5 L648.2,2117.5 L652.34,2117.5 L656.48,2117.5 L660.61,2117.5 L664.75,2117.5 L668.89,2117.5 L673.03,2117.5 L677.17,2117.5 L681.3,2117.5 L685.44,2117.5 L689.58,2117.5 L693.72,2117.5 L697.86,2117.5 L701.99,2117.5 L706.13,2117.5 L710.27,2117.5 L714.41,2117.5 L718.55,2117.5 L722.68,2117.5 L726.82,2117.5 L730.96,2117.5 L735.1,2117.5 L739.24,2117.5 L743.37,2117.5 L747.51,2117.5 L751.65,2117.5 L755.79,2117.5 L759.93,2117.5 L764.06,2117.5 L768.2,2117.5 L772.34,2117.5 L776.48,2117.5 L780.62,2117.5 L784.75,2117.5 L788.89,2117.5 L793.03,2117.5 L797.17,2117.5 L801.31,2117.5 L805.44,2117.5 L809.58,2117.5 L813.72,2117.49 L817.86,2117.49 L822,2117.49 L826.13,2117.49 L830.27,2117.49 L834.41,2117.49 L838.55,2117.48 L842.69,2117.48 L846.82,2117.48 L850.96,2117.48 L855.1,2117.47 L859.24,2117.47 L863.38,2117.46 L867.51,2117.45 L871.65,2117.44 L875.79,2117.43 L879.93,2117.42 L884.07,2117.41 L888.2,2117.39 L892.34,2117.37 L896.48,2117.35 L900.62,2117.32 L904.76,2117.29 L908.89,2117.25 L913.03,2117.21 L917.17,2117.16 L921.31,2117.1 L925.45,2117.03 L929.58,2116.96 L933.72,2116.86 L937.86,2116.76 L942,2116.63 L946.14,2116.49 L950.27,2116.32 L954.41,2116.13 L958.55,2115.91 L962.69,2115.65 L966.83,2115.35 L970.96,2115 L975.1,2114.6 L979.24,2114.14 L983.38,2113.61 L987.52,2113 L991.65,2112.3 L995.79,2111.5 L999.93,2110.58 L1004.07,2109.52 L1008.21,2108.31 L1012.34,2106.93 L1016.48,2105.36 L1020.62,2103.57 L1024.76,2101.54 L1028.9,2099.24 L1033.03,2096.63 L1037.17,2093.69 L1041.31,2090.39 L1045.45,2086.68 L1049.59,2082.53 L1053.72,2077.9 L1057.86,2072.75 L1062,2067.05 L1066.14,2060.77 L1070.28,2053.87 L1074.41,2046.32 L1078.55,2038.1 L1082.69,2029.19 L1086.83,2019.59 L1090.97,2009.29 L1095.1,1998.3 L1099.24,1986.63 L1103.38,1974.32 L1107.52,1961.39 L1111.66,1947.88 L1115.79,1933.85 L1119.93,1919.36 L1124.07,1904.46 L1128.21,1889.22 L1132.35,1873.7 L1136.48,1857.98 L1140.62,1842.13 L1144.76,1826.21 L1148.9,1810.28 L1153.04,1794.41 L1157.17,1778.66 L1161.31,1763.08 L1165.45,1747.71 L1169.59,1732.61 L1173.73,1717.8 L1177.86,1703.32 L1182,1689.2 L1186.14,1675.46 L1190.28,1662.13 L1194.42,1649.2 L1198.55,1636.7 L1202.69,1624.64 L1206.83,1613.01 L1210.97,1601.81 L1215.11,1591.06 L1219.24,1580.74 L1223.38,1570.84 L1227.52,1561.37 L1231.66,1552.31 L1235.8,1543.65 L1239.93,1535.39 L1244.07,1527.52 L1248.21,1520.02 L1252.35,1512.88 L1256.49,1506.09 L1260.62,1499.64 L1264.76,1493.52 L1268.9,1487.72 L1273.04,1482.22 L1277.18,1477.01 L1281.31,1472.09 L1285.45,1467.44 L1289.59,1463.05 L1293.73,1458.91 L1297.87,1455.02 L1302,1451.35 L1306.14,1447.92 L1310.28,1444.69 L1314.42,1441.68 L1318.56,1438.86 L1322.69,1436.24 L1326.83,1433.8 L1330.97,1431.55 L1335.11,1429.46 L1339.25,1427.55 L1343.38,1425.79 L1347.52,1424.2 L1351.66,1422.75 L1355.8,1421.46 L1359.94,1420.31 L1364.07,1419.3 L1368.21,1418.43 L1372.35,1417.7 L1376.49,1417.09 L1380.63,1416.62 L1384.76,1416.28 L1388.9,1416.06 L1393.04,1415.96 L1397.18,1415.99 L1401.32,1416.15 L1405.45,1416.42 L1409.59,1416.81 L1413.73,1417.33 L1417.87,1417.96 L1422.01,1418.72 L1426.14,1419.6 L1430.28,1420.59 L1434.42,1421.71 L1438.56,1422.96 L1442.7,1424.32 L1446.83,1425.81 L1450.97,1427.43 L1455.11,1429.17 L1459.25,1431.04 L1463.39,1433.04 L1467.52,1435.17 L1471.66,1437.44 L1475.8,1439.84 L1479.94,1442.38 L1484.08,1445.06 L1488.21,1447.88 L1492.35,1450.85 L1496.49,1453.96 L1500.63,1457.21 L1504.77,1460.62 L1508.9,1464.18 L1513.04,1467.89 L1517.18,1471.76 L1521.32,1475.79 L1525.46,1479.97 L1529.59,1484.32 L1533.73,1488.82 L1537.87,1493.49 L1542.01,1498.33 L1546.15,1503.33 L1550.28,1508.5 L1554.42,1513.83 L1558.56,1519.33 L1562.7,1525 L1566.84,1530.84 L1570.97,1536.84 L1575.11,1543 L1579.25,1549.33 L1583.39,1555.82 L1587.53,1562.46 L1591.66,1569.27 L1595.8,1576.23 L1599.94,1583.33 L1604.08,1590.59 L1608.22,1597.98 L1612.35,1605.52 L1616.49,1613.18 L1620.63,1620.97 L1624.77,1628.89 L1628.91,1636.91 L1633.04,1645.05 L1637.18,1653.28 L1641.32,1661.61 L1645.46,1670.02 L1649.6,1678.51 L1653.73,1687.07 L1657.87,1695.68 L1662.01,1704.35 L1666.15,1713.06 L1670.29,1721.8 L1674.42,1730.56 L1678.56,1739.34 L1682.7,1748.12 L1686.84,1756.89 L1690.98,1765.65 L1695.11,1774.39 L1699.25,1783.09 L1703.39,1791.75 L1707.53,1800.35 L1711.67,1808.9 L1715.8,1817.38 L1719.94,1825.78 L1724.08,1834.09 L1728.22,1842.31 L1732.36,1850.44 L1736.49,1858.45 L1740.63,1866.36 L1744.77,1874.14 L1748.91,1881.8 L1753.05,1889.34 L1757.18,1896.73 L1761.32,1904 L1765.46,1911.12 L1769.6,1918.09 L1773.74,1924.92 L1777.87,1931.59 L1782.01,1938.12 L1786.15,1944.49 L1790.29,1950.71 L1794.43,1956.77 L1798.56,1962.67 L1802.7,1968.42 L1806.84,1974.01 L1810.98,1979.45 L1815.12,1984.73 L1819.25,1989.86 L1823.39,1994.83 L1827.53,1999.66 L1831.67,2004.33 L1835.81,2008.86 L1839.94,2013.25 L1844.08,2017.49 L1848.22,2021.59 L1852.36,2025.56 L1856.5,2029.39 L1860.63,2033.08 L1864.77,2036.65 L1868.91,2040.09 L1873.05,2043.41 L1877.19,2046.61 L1881.32,2049.7 L1885.46,2052.67 L1889.6,2055.52 L1893.74,2058.27 L1897.88,2060.92 L1902.01,2063.46 L1906.15,2065.91 L1910.29,2068.26 L1914.43,2070.51 L1918.57,2072.68 L1922.7,2074.76 L1926.84,2076.76 L1930.98,2078.68 L1935.12,2080.51 L1939.26,2082.28 L1943.39,2083.96 L1947.53,2085.58 L1951.67,2087.13 L1955.81,2088.62 L1959.95,2090.04 L1964.08,2091.4 L1968.22,2092.7 L1972.36,2093.94 L1976.5,2095.13 L1980.64,2096.27 L1984.77,2097.36 L1988.91,2098.4 L1993.05,2099.39 L1997.19,2100.34 L2001.33,2101.24 L2005.46,2102.11 L2009.6,2102.93 L2013.74,2103.71 L2017.88,2104.46 L2022.02,2105.18 L2026.15,2105.85 L2030.29,2106.5 L2034.43,2107.12 L2038.57,2107.7 L2042.71,2108.26 L2046.84,2108.79 L2050.98,2109.29 L2055.12,2109.77 L2059.26,2110.22 L2063.4,2110.65 L2067.53,2111.06 L2071.67,2111.45 L2075.81,2111.81 L2079.95,2112.16 L2084.09,2112.49 L2088.22,2112.8 L2092.36,2113.09 L2096.5,2113.37" stroke="#FF7014" stroke-width="5.0"/>
<path d="M234.4,2117.5 L238.54,2117.5 L242.68,2117.5 L246.81,2117.5 L250.95,2117.5 L255.09,2117.5 L259.23,2117.5 L263.37,2117.5 L267.5,2117.5 L271.64,2117.5 L275.78,2117.5 L279.92,2117.5 L284.06,2117.5 L288.19,2117.5 L292.33,2117.5 L296.47,2117.5 L300.61,2117.5 L304.75,2117.5 L308.88,2117.5 L313.02,2117.5 L317.16,2117.5 L321.3,2117.5 L325.44,2117.5 L329.57,2117.5 L333.71,2117.5 L337.85,2117.5 L341.99,2117.5 L346.13,2117.5 L350.26,2117.5 L354.4,2117.5 L358.54,2117.5 L362.68,2117.5 L366.82,2117.5 L370.95,2117.5 L375.09,2117.5 L379.23,2117.5 L383.37,2117.5 L387.51,2117.5 L391.64,2117.5 L395.78,2117.5 L399.92,2117.5 L404.06,2117.5 L408.2,2117.5 L412.33,2117.5 L416.47,2117.5 L420.61,2117.5 L424.75,2117.5 L428.89,2117.5 L433.02,2117.5 L437.16,2117.5 L441.3,2117.5 L445.44,2117.5 L449.58,2117.5 L453.71,2117.5 L457.85,2117.5 L461.99,2117.5 L466.13,2117.5 L470.27,2117.5 L474.4,2117.5 L478.54,2117.5 L482.68,2117.5 L486.82,2117.5 L490.96,2117.5 L495.09,2117.5 L499.23,2117.5 L503.37,2117.5 L507.51,2117.5 L511.65,2117.5 L515.78,2117.5 L519.92,2117.5 L524.06,2117.5 L528.2,2117.5 L532.34,2117.5 L536.47,2117.5 L540.61,2117.5 L544.75,2117.5 L548.89,2117.5 L553.03,2117.5 L557.16,2117.5 L561.3,2117.5 L565.44,2117.5 L569.58,2117.5 L573.72,2117.5 L577.85,2117.5 L581.99,2117.5 L586.13,2117.5 L590.27,2117.5 L594.41,2117.5 L598.54,2117.5 L602.68,2117.5 L606.82,2117.5 L610.96,2117.5 L615.1,2117.5 L619.23,2117.5 L623.37,2117.5 L627.51,2117.5 L631.65,2117.5 L635.79,2117.5 L639.92,2117.5 L644.06,2117.5 L648.2,2117.5 L652.34,2117.5 L656.48,2117.5 L660.61,2117.5 L664.75,2117.5 L668.89,2117.5 L673.03,2117.5 L677.17,2117.5 L681.3,2117.5 L685.44,2117.5 L689.58,2117.5 L693.72,2117.5 L697.86,2117.5 L701.99,2117.5 L706.13,2117.5 L710.27,2117.5 L714.41,2117.5 L718.55,2117.5 L722.68,2117.5 L726.82,2117.5 L730.96,2117.5 L735.1,2117.5 L739.24,2117.5 L743.37,2117.5 L747.51,2117.5 L751.65,2117.5 L755.79,2117.5 L759.93,2117.5 L764.06,2117.5 L768.2,2117.5 L772.34,2117.5 L776.48,2117.5 L780.62,2117.5 L784.75,2117.5 L788.89,2117.5 L793.03,2117.5 L797.17,2117.5 L801.31,2117.5 L805.44,2117.5 L809.58,2117.5 L813.72,2117.5 L817.86,2117.5 L822,2117.5 L826.13,2117.5 L830.27,2117.5 L834.41,2117.5 L838.55,2117.5 L842.69,2117.5 L846.82,2117.5 L850.96,2117.5 L855.1,2117.5 L859.24,2117.5 L863.38,2117.5 L867.51,2117.5 L871.65,2117.5 L875.79,2117.5 L879.93,2117.5 L884.07,2117.5 L888.2,2117.5 L892.34,2117.5 L896.48,2117.5 L900.62,2117.5 L904.76,2117.5 L908.89,2117.5 L913.03,2117.5 L917.17,2117.5 L921.31,2117.5 L925.45,2117.5 L929.58,2117.5 L933.72,2117.5 L937.86,2117.5 L942,2117.5 L946.14,2117.5 L950.27,2117.5 L954.41,2117.5 L958.55,2117.5 L962.69,2117.5 L966.83,2117.5 L970.96,2117.5 L975.1,2117.5 L979.24,2117.5 L983.38,2117.5 L987.52,2117.5 L991.65,2117.5 L995.79,2117.5 L999.93,2117.5 L1004.07,2117.5 L1008.21,2117.49 L1012.34,2117.49 L1016.48,2117.49 L1020.62,2117.49 L1024.76,2117.49 L1028.9,2117.49 L1033.03,2117.48 L1037.17,2117.48 L1041.31,2117.48 L1045.45,2117.47 L1049.59,2117.47 L1053.72,2117.46 L1057.86,2117.45 L1062,2117.45 L1066.14,2117.44 L1070.28,2117.43 L1074.41,2117.41 L1078.55,2117.4 L1082.69,2117.38 L1086.83,2117.36 L1090.97,2117.34 L1095.1,2117.32 L1099.24,2117.29 L1103.38,2117.26 L1107.52,2117.23 L1111.66,2117.19 L1115.79,2117.15 L1119.93,2117.1 L1124.07,2117.05 L1128.21,2117 L1132.35,2116.94 L1136.48,2116.87 L1140.62,2116.8 L1144.76,2116.73 L1148.9,2116.65 L1153.04,2116.56 L1157.17,2116.47 L1161.31,2116.37 L1165.45,2116.27 L1169.59,2116.16 L1173.73,2116.04 L1177.86,2115.92 L1182,2115.79 L1186.14,2115.65 L1190.28,2115.5 L1194.42,2115.35 L1198.55,2115.19 L1202.69,2115.02 L1206.83,2114.84 L1210.97,2114.65 L1215.11,2114.45 L1219.24,2114.25 L1223.38,2114.03 L1227.52,2113.8 L1231.66,2113.57 L1235.8,2113.32 L1239.93,2113.06 L1244.07,2112.79 L1248.21,2112.5 L1252.35,2112.2 L1256.49,2111.89 L1260.62,2111.57 L1264.76,2111.22 L1268.9,2110.87 L1273.04,2110.49 L1277.18,2110.1 L1281.31,2109.7 L1285.45,2109.27 L1289.59,2108.82 L1293.73,2108.36 L1297.87,2107.87 L1302,2107.36 L1306.14,2106.83 L1310.28,2106.27 L1314.42,2105.69 L1318.56,2105.08 L1322.69,2104.45 L1326.83,2103.78 L1330.97,2103.09 L1335.11,2102.36 L1339.25,2101.6 L1343.38,2100.81 L1347.52,2099.99 L1351.66,2099.12 L1355.8,2098.22 L1359.94,2097.28 L1364.07,2096.29 L1368.21,2095.27 L1372.35,2094.2 L1376.49,2093.08 L1380.63,2091.91 L1384.76,2090.69 L1388.9,2089.42 L1393.04,2088.09 L1397.18,2086.7 L1401.32,2085.26 L1405.45,2083.75 L1409.59,2082.18 L1413.73,2080.55 L1417.87,2078.84 L1422.01,2077.06 L1426.14,2075.21 L1430.28,2073.28 L1434.42,2071.27 L1438.56,2069.18 L1442.7,2067 L1446.83,2064.73 L1450.97,2062.37 L1455.11,2059.92 L1459.25,2057.37 L1463.39,2054.72 L1467.52,2051.97 L1471.66,2049.11 L1475.8,2046.14 L1479.94,2043.05 L1484.08,2039.85 L1488.21,2036.54 L1492.35,2033.1 L1496.49,2029.53 L1500.63,2025.84 L1504.77,2022.01 L1508.9,2018.05 L1513.04,2013.96 L1517.18,2009.72 L1521.32,2005.35 L1525.46,2000.83 L1529.59,1996.16 L1533.73,1991.35 L1537.87,1986.39 L1542.01,1981.27 L1546.15,1976 L1550.28,1970.58 L1554.42,1965 L1558.56,1959.27 L1562.7,1953.38 L1566.84,1947.34 L1570.97,1941.15 L1575.11,1934.79 L1579.25,1928.29 L1583.39,1921.64 L1587.53,1914.83 L1591.66,1907.88 L1595.8,1900.79 L1599.94,1893.56 L1604.08,1886.19 L1608.22,1878.68 L1612.35,1871.06 L1616.49,1863.3 L1620.63,1855.44 L1624.77,1847.46 L1628.91,1839.38 L1633.04,1831.2 L1637.18,1822.93 L1641.32,1814.58 L1645.46,1806.16 L1649.6,1797.67 L1653.73,1789.13 L1657.87,1780.53 L1662.01,1771.9 L1666.15,1763.24 L1670.29,1754.56 L1674.42,1745.87 L1678.56,1737.19 L1682.7,1728.51 L1686.84,1719.85 L1690.98,1711.23 L1695.11,1702.64 L1699.25,1694.11 L1703.39,1685.63 L1707.53,1677.23 L1711.67,1668.9 L1715.8,1660.66 L1719.94,1652.52 L1724.08,1644.48 L1728.22,1636.56 L1732.36,1628.76 L1736.49,1621.09 L1740.63,1613.55 L1744.77,1606.16 L1748.91,1598.92 L1753.05,1591.83 L1757.18,1584.91 L1761.32,1578.15 L1765.46,1571.56 L1769.6,1565.15 L1773.74,1558.92 L1777.87,1552.88 L1782.01,1547.02 L1786.15,1541.35 L1790.29,1535.87 L1794.43,1530.59 L1798.56,1525.51 L1802.7,1520.62 L1806.84,1515.93 L1810.98,1511.45 L1815.12,1507.16 L1819.25,1503.08 L1823.39,1499.21 L1827.53,1495.53 L1831.67,1492.07 L1835.81,1488.8 L1839.94,1485.74 L1844.08,1482.88 L1848.22,1480.23 L1852.36,1477.78 L1856.5,1475.53 L1860.63,1473.49 L1864.77,1471.65 L1868.91,1470.01 L1873.05,1468.57 L1877.19,1467.33 L1881.32,1466.3 L1885.46,1465.46 L1889.6,1464.83 L1893.74,1464.4 L1897.88,1464.16 L1902.01,1464.13 L1906.15,1464.3 L1910.29,1464.67 L1914.43,1465.24 L1918.57,1466 L1922.7,1466.97 L1926.84,1468.14 L1930.98,1469.52 L1935.12,1471.09 L1939.26,1472.87 L1943.39,1474.84 L1947.53,1477.02 L1951.67,1479.41 L1955.81,1482 L1959.95,1484.79 L1964.08,1487.78 L1968.22,1490.98 L1972.36,1494.38 L1976.5,1497.99 L1980.64,1501.8 L1984.77,1505.81 L1988.91,1510.03 L1993.05,1514.45 L1997.19,1519.07 L2001.33,1523.89 L2005.46,1528.91 L2009.6,1534.12 L2013.74,1539.54 L2017.88,1545.14 L2022.02,1550.94 L2026.15,1556.92 L2030.29,1563.09 L2034.43,1569.44 L2038.57,1575.96 L2042.71,1582.66 L2046.84,1589.53 L2050.98,1596.56 L2055.12,1603.75 L2059.26,1611.08 L2063.4,1618.57 L2067.53,1626.19 L2071.67,1633.94 L2075.81,1641.82 L2079.95,1649.81 L2084.09,1657.91 L2088.22,1666.11 L2092.36,1674.4 L2096.5,1682.77" stroke="#A6A6A6" stroke-width="5.0"/>
<path d="M234.4,2117.5 L238.54,2117.5 L242.68,2117.5 L246.81,2117.5 L250.95,2117.5 L255.09,2117.5 L259.23,2117.5 L263.37,2117.5 L267.5,2117.5 L271.64,2117.5 L275.78,2117.5 L279.92,2117.5 L284.06,2117.5 L288.19,2117.5 L292.33,2117.5 L296.47,2117.5 L300.61,2117.5 L304.75,2117.5 L308.88,2117.5 L313.02,2117.5 L317.16,2117.5 L321.3,2117.5 L325.44,2117.5 L329.57,2117.5 L333.71,2117.5 L337.85,2117.5 L341.99,2117.5 L346.13,2117.5 L350.26,2117.5 L354.4,2117.5 L358.54,2117.5 L362.68,2117.5 L366.82,2117.5 L370.95,2117.5 L375.09,2117.5 L379.23,2117.5 L383.37,2117.5 L387.51,2117.5 L391.64,2117.5 L395.78,2117.5 L399.92,2117.5 L404.06,2117.5 L408.2,2117.5 L412.33,2117.5 L416.47,2117.5 L420.61,2117.5 L424.75,2117.5 L428.89,2117.5 L433.02,2117.5 L437.16,2117.5 L441.3,2117.5 L445.44,2117.5 L449.58,2117.5 L453.71,2117.5 L457.85,2117.5 L461.99,2117.5 L466.13,2117.5 L470.27,2117.5 L474.4,2117.5 L478.54,2117.5 L482.68,2117.5 L486.82,2117.5 L490.96,2117.5 L495.09,2117.5 L499.23,2117.5 L503.37,2117.5 L507.51,2117.5 L511.65,2117.5 L515.78,2117.5 L519.92,2117.5 L524.06,2117.5 L528.2,2117.5 L532.34,2117.5 L536.47,2117.5 L540.61,2117.5 L544.75,2117.5 L548.89,2117.5 L553.03,2117.5 L557.16,2117.5 L561.3,2117.5 L565.44,2117.5 L569.58,2117.5 L573.72,2117.5 L577.85,2117.5 L581.99,2117.5 L586.13,2117.5 L590.27,2117.5 L594.41,2117.5 L598.54,2117.5 L602.68,2117.5 L606.82,2117.5 L610.96,2117.5 L615.1,2117.5 L619.23,2117.5 L623.37,2117.5 L627.51,2117.5 L631.65,2117.5 L635.79,2117.5 L639.92,2117.5 L644.06,2117.5 L648.2,2117.5 L652.34,2117.5 L656.48,2117.5 L660.61,2117.5 L664.75,2117.5 L668.89,2117.5 L673.03,2117.5 L677.17,2117.5 L681.3,2117.5 L685.44,2117.5 L689.58,2117.5 L693.72,2117.5 L697.86,2117.5 L701.99,2117.5 L706.13,2117.5 L710.27,2117.5 L714.41,2117.5 L718.55,2117.5 L722.68,2117.5 L726.82,2117.5 L730.96,2117.5 L735.1,2117.5 L739.24,2117.5 L743.37,2117.5 L747.51,2117.5 L751.65,2117.5 L755.79,2117.5 L759.93,2117.5 L764.06,2117.5 L768.2,2117.5 L772.34,2117.5 L776.48,2117.5 L780.62,2117.5 L784.75,2117.5 L788.89,2117.5 L793.03,2117.5 L797.17,2117.5 L801.31,2117.5 L805.44,2117.5 L809.58,2117.5 L813.72,2117.5 L817.86,2117.5 L822,2117.5 L826.13,2117.5 L830.27,2117.5 L834.41,2117.5 L838.55,2117.5 L842.69,2117.5 L846.82,2117.5 L850.96,2117.5 L855.1,2117.5 L859.24,2117.5 L863.38,2117.5 L867.51,2117.5 L871.65,2117.5 L875.79,2117.5 L879.93,2117.5 L884.07,2117.5 L888.2,2117.5 L892.34,2117.5 L896.48,2117.5 L900.62,2117.5 L904.76,2117.5 L908.89,2117.5 L913.03,2117.5 L917.17,2117.5 L921.31,2117.5 L925.45,2117.5 L929.58,2117.5 L933.72,2117.5 L937.86,2117.5 L942,2117.5 L946.14,2117.5 L950.27,2117.5 L954.41,2117.5 L958.55,2117.5 L962.69,2117.5 L966.83,2117.5 L970.96,2117.5 L975.1,2117.5 L979.24,2117.5 L983.38,2117.5 L987.52,2117.5 L991.65,2117.5 L995.79,2117.5 L999.93,2117.5 L1004.07,2117.5 L1008.21,2117.5 L1012.34,2117.5 L1016.48,2117.5 L1020.62,2117.5 L1024.76,2117.5 L1028.9,2117.5 L1033.03,2117.5 L1037.17,2117.5 L1041.31,2117.5 L1045.45,2117.5 L1049.59,2117.5 L1053.72,2117.5 L1057.86,2117.5 L1062,2117.5 L1066.14,2117.5 L1070.28,2117.5 L1074.41,2117.5 L1078.55,2117.5 L1082.69,2117.5 L1086.83,2117.5 L1090.97,2117.5 L1095.1,2117.5 L1099.24,2117.5 L1103.38,2117.5 L1107.52,2117.5 L1111.66,2117.5 L1115.79,2117.5 L1119.93,2117.5 L1124.07,2117.5 L1128.21,2117.5 L1132.35,2117.5 L1136.48,2117.5 L1140.62,2117.5 L1144.76,2117.5 L1148.9,2117.5 L1153.04,2117.5 L1157.17,2117.5 L1161.31,2117.5 L1165.45,2117.5 L1169.59,2117.5 L1173.73,2117.5 L1177.86,2117.5 L1182,2117.5 L1186.14,2117.5 L1190.28,2117.5 L1194.42,2117.5 L1198.55,2117.5 L1202.69,2117.5 L1206.83,2117.5 L1210.97,2117.5 L1215.11,2117.5 L1219.24,2117.5 L1223.38,2117.5 L1227.52,2117.5 L1231.66,2117.5 L1235.8,2117.5 L1239.93,2117.5 L1244.07,2117.5 L1248.21,2117.5 L1252.35,2117.5 L1256.49,2117.5 L1260.62,2117.5 L1264.76,2117.5 L1268.9,2117.5 L1273.04,2117.5 L1277.18,2117.5 L1281.31,2117.5 L1285.45,2117.5 L1289.59,2117.5 L1293.73,2117.5 L1297.87,2117.5 L1302,2117.5 L1306.14,2117.5 L1310.28,2117.5 L1314.42,2117.5 L1318.56,2117.5 L1322.69,2117.5 L1326.83,2117.5 L1330.97,2117.5 L1335.11,2117.5 L1339.25,2117.5 L1343.38,2117.5 L1347.52,2117.5 L1351.66,2117.5 L1355.8,2117.5 L1359.94,2117.5 L1364.07,2117.5 L1368.21,2117.49 L1372.35,2117.49 L1376.49,2117.49 L1380.63,2117.49 L1384.76,2117.49 L1388.9,2117.49 L1393.04,2117.49 L1397.18,2117.49 L1401.32,2117.49 L1405.45,2117.49 L1409.59,2117.49 L1413.73,2117.49 L1417.87,2117.48 L1422.01,2117.48 L1426.14,2117.48 L1430.28,2117.48 L1434.42,2117.48 L1438.56,2117.48 L1442.7,2117.47 L1446.83,2117.47 L1450.97,2117.47 L1455.11,2117.47 L1459.25,2117.46 L1463.39,2117.46 L1467.52,2117.46 L1471.66,2117.45 L1475.8,2117.45 L1479.94,2117.44 L1484.08,2117.44 L1488.21,2117.43 L1492.35,2117.42 L1496.49,2117.42 L1500.63,2117.41 L1504.77,2117.4 L1508.9,2117.39 L1513.04,2117.38 L1517.18,2117.37 L1521.32,2117.36 L1525.46,2117.35 L1529.59,2117.33 L1533.73,2117.32 L1537.87,2117.3 L1542.01,2117.29 L1546.15,2117.27 L1550.28,2117.25 L1554.42,2117.23 L1558.56,2117.2 L1562.7,2117.18 L1566.84,2117.15 L1570.97,2117.12 L1575.11,2117.09 L1579.25,2117.05 L1583.39,2117.02 L1587.53,2116.97 L1591.66,2116.93 L1595.8,2116.88 L1599.94,2116.83 L1604.08,2116.78 L1608.22,2116.72 L1612.35,2116.66 L1616.49,2116.59 L1620.63,2116.52 L1624.77,2116.44 L1628.91,2116.36 L1633.04,2116.27 L1637.18,2116.17 L1641.32,2116.07 L1645.46,2115.96 L1649.6,2115.85 L1653.73,2115.72 L1657.87,2115.59 L1662.01,2115.45 L1666.15,2115.3 L1670.29,2115.14 L1674.42,2114.97 L1678.56,2114.78 L1682.7,2114.59 L1686.84,2114.39 L1690.98,2114.17 L1695.11,2113.94 L1699.25,2113.69 L1703.39,2113.44 L1707.53,2113.16 L1711.67,2112.87 L1715.8,2112.56 L1719.94,2112.24 L1724.08,2111.9 L1728.22,2111.53 L1732.36,2111.15 L1736.49,2110.75 L1740.63,2110.32 L1744.77,2109.87 L1748.91,2109.4 L1753.05,2108.9 L1757.18,2108.38 L1761.32,2107.83 L1765.46,2107.25 L1769.6,2106.64 L1773.74,2106 L1777.87,2105.33 L1782.01,2104.62 L1786.15,2103.88 L1790.29,2103.1 L1794.43,2102.29 L1798.56,2101.43 L1802.7,2100.53 L1806.84,2099.6 L1810.98,2098.61 L1815.12,2097.58 L1819.25,2096.5 L1823.39,2095.38 L1827.53,2094.19 L1831.67,2092.96 L1835.81,2091.67 L1839.94,2090.32 L1844.08,2088.91 L1848.22,2087.44 L1852.36,2085.9 L1856.5,2084.3 L1860.63,2082.62 L1864.77,2080.87 L1868.91,2079.05 L1873.05,2077.15 L1877.19,2075.16 L1881.32,2073.1 L1885.46,2070.95 L1889.6,2068.7 L1893.74,2066.37 L1897.88,2063.94 L1902.01,2061.42 L1906.15,2058.79 L1910.29,2056.05 L1914.43,2053.21 L1918.57,2050.26 L1922.7,2047.2 L1926.84,2044.02 L1930.98,2040.72 L1935.12,2037.3 L1939.26,2033.75 L1943.39,2030.07 L1947.53,2026.26 L1951.67,2022.31 L1955.81,2018.23 L1959.95,2014.01 L1964.08,2009.65 L1968.22,2005.14 L1972.36,2000.48 L1976.5,1995.67 L1980.64,1990.72 L1984.77,1985.61 L1988.91,1980.34 L1993.05,1974.93 L1997.19,1969.35 L2001.33,1963.62 L2005.46,1957.73 L2009.6,1951.68 L2013.74,1945.48 L2017.88,1939.12 L2022.02,1932.6 L2026.15,1925.93 L2030.29,1919.11 L2034.43,1912.14 L2038.57,1905.02 L2042.71,1897.76 L2046.84,1890.36 L2050.98,1882.82 L2055.12,1875.15 L2059.26,1867.35 L2063.4,1859.44 L2067.53,1851.4 L2071.67,1843.26 L2075.81,1835.01 L2079.95,1826.67 L2084.09,1818.23 L2088.22,1809.72 L2092.36,1801.13 L2096.5,1792.48" stroke="#FFC000" stroke-width="5.0"/>
</g>
<path d="M234.4,1353.4 H2096.5 V2117.5" fill="none" stroke="#000" stroke-opacity="0.6" stroke-width="2.8"/>
<g style="font-kerning:none" filter="url(#softt)">
<text x="33.48" y="83.6" font-size="65.3" textLength="42.25" lengthAdjust="spacingAndGlyphs" fill="#000">A</text>
<text x="78.89" y="81.6" font-size="67.6" textLength="17.83" lengthAdjust="spacingAndGlyphs" fill="#000">)</text>
<text x="33.27" y="1267.6" font-size="66.1" textLength="40.1" lengthAdjust="spacingAndGlyphs" fill="#000">B</text>
<text x="75.48" y="1265.5" font-size="68.1" textLength="18.09" lengthAdjust="spacingAndGlyphs" fill="#000">)</text>
<text x="969.07" y="95.3" font-size="59.6" font-weight="bold" textLength="26.78" lengthAdjust="spacingAndGlyphs" fill="#000">L</text>
<text x="997.65" y="95.3" font-size="59.6" font-weight="bold" textLength="28.68" lengthAdjust="spacingAndGlyphs" fill="#000">1</text>
<text x="1043.39" y="95.3" font-size="59.6" font-weight="bold" textLength="33.54" lengthAdjust="spacingAndGlyphs" fill="#000">+</text>
<text x="1089.69" y="95.3" font-size="59.6" font-weight="bold" textLength="57.42" lengthAdjust="spacingAndGlyphs" fill="#000">M</text>
<text x="1145.13" y="95.3" font-size="59.6" font-weight="bold" textLength="36.81" lengthAdjust="spacingAndGlyphs" fill="#000">n</text>
<text x="1181.14" y="74.8" font-size="38.7" font-weight="bold" textLength="20.22" lengthAdjust="spacingAndGlyphs" fill="#000">2</text>
<text x="1201.57" y="74.8" font-size="38.7" font-weight="bold" textLength="23.99" lengthAdjust="spacingAndGlyphs" fill="#000">+</text>
<text x="968.68" y="1282.1" font-size="59.6" font-weight="bold" textLength="26.66" lengthAdjust="spacingAndGlyphs" fill="#000">L</text>
<text x="995.28" y="1282.1" font-size="59.6" font-weight="bold" textLength="30.84" lengthAdjust="spacingAndGlyphs" fill="#000">2</text>
<text x="1041.78" y="1282.1" font-size="59.6" font-weight="bold" textLength="33.66" lengthAdjust="spacingAndGlyphs" fill="#000">+</text>
<text x="1088.7" y="1282.1" font-size="59.6" font-weight="bold" textLength="58.49" lengthAdjust="spacingAndGlyphs" fill="#000">M</text>
<text x="1145.26" y="1282.1" font-size="59.6" font-weight="bold" textLength="33.77" lengthAdjust="spacingAndGlyphs" fill="#000">n</text>
<text x="1180.88" y="1261.6" font-size="38.7" font-weight="bold" textLength="19.64" lengthAdjust="spacingAndGlyphs" fill="#000">2</text>
<text x="1200.71" y="1261.6" font-size="38.7" font-weight="bold" textLength="23.52" lengthAdjust="spacingAndGlyphs" fill="#000">+</text>
<text x="1139.86" y="1083" font-size="43.5" textLength="54.3" lengthAdjust="spacingAndGlyphs" fill="#000">pH</text>
<text x="1137.07" y="2266.8" font-size="43.5" textLength="54.19" lengthAdjust="spacingAndGlyphs" fill="#000">pH</text>
<text transform="translate(105.9 686.9) rotate(-90)" x="-3.81" y="0" font-size="44.5" textLength="281.22" lengthAdjust="spacingAndGlyphs" fill="#000">Molar fraction</text>
<text transform="translate(102.6 1869.7) rotate(-90)" x="-3.77" y="0" font-size="44.5" textLength="278.76" lengthAdjust="spacingAndGlyphs" fill="#000">Molar fraction</text>
<text x="616.54" y="243.4" font-size="45" textLength="157.27" lengthAdjust="spacingAndGlyphs" fill="#2E75CF">free Mn</text>
<text x="775.47" y="228.1" font-size="32" textLength="32.32" lengthAdjust="spacingAndGlyphs" fill="#2E75CF">2+</text>
<text x="1798.53" y="239.7" font-size="45" textLength="76.48" lengthAdjust="spacingAndGlyphs" fill="#858585">[Mn</text>
<text x="1875.01" y="239.7" font-size="45" stroke="#858585" stroke-width="1.1" textLength="25.52" lengthAdjust="spacingAndGlyphs" fill="#858585">L</text>
<text x="1900.52" y="239.7" font-size="45" textLength="12.75" lengthAdjust="spacingAndGlyphs" fill="#858585">]</text>
<text x="1914.93" y="225" font-size="32" textLength="35.61" lengthAdjust="spacingAndGlyphs" fill="#858585">2+</text>
<text x="1311.79" y="711.8" font-size="45" textLength="107.65" lengthAdjust="spacingAndGlyphs" fill="#FB8A40">[HMn</text>
<text x="1419.44" y="711.8" font-size="45" stroke="#FB8A40" stroke-width="1.1" textLength="25.06" lengthAdjust="spacingAndGlyphs" fill="#FB8A40">L</text>
<text x="1444.49" y="711.8" font-size="45" textLength="12.52" lengthAdjust="spacingAndGlyphs" fill="#FB8A40">]</text>
<text x="1459.12" y="696.9" font-size="31" textLength="35.2" lengthAdjust="spacingAndGlyphs" fill="#FB8A40">3+</text>
<text x="516.95" y="1426.4" font-size="45" textLength="156.45" lengthAdjust="spacingAndGlyphs" fill="#2E75CF">free Mn</text>
<text x="672.96" y="1411.1" font-size="32" textLength="34.84" lengthAdjust="spacingAndGlyphs" fill="#2E75CF">2+</text>
<text x="1317.92" y="1400" font-size="45" textLength="148.15" lengthAdjust="spacingAndGlyphs" fill="#FB8A40">[HMnL]</text>
<text x="1468.11" y="1387.6" font-size="32" textLength="32.49" lengthAdjust="spacingAndGlyphs" fill="#FB8A40">3+</text>
<text x="1841.14" y="1437.2" font-size="45" textLength="114.53" lengthAdjust="spacingAndGlyphs" fill="#858585">[MnL]</text>
<text x="1958.06" y="1424" font-size="32" textLength="34.95" lengthAdjust="spacingAndGlyphs" fill="#858585">2+</text>
<text x="1840.77" y="1820.9" font-size="45" textLength="211.67" lengthAdjust="spacingAndGlyphs" fill="#FFC31A">[MnL(OH)]</text>
<text x="2051.53" y="1808.5" font-size="32" textLength="17.55" lengthAdjust="spacingAndGlyphs" fill="#FFC31A">+</text>
</g>
</svg>
</body></html>
